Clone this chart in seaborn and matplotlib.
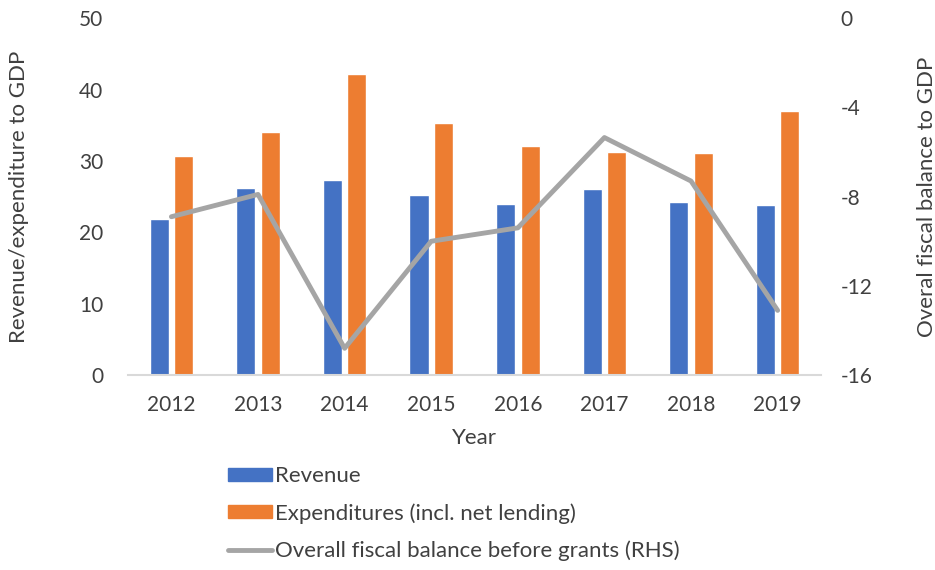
from matplotlib import pyplot as plt
from matplotlib.patches import Patch
from matplotlib.lines import Line2D
import pandas as pd
import seaborn as sns

years = ['2012', '2013', '2014', '2015', '2016', '2017', '2018', '2019']
revenue = [21.9, 26.2, 27.3, 25.2, 24.0, 26.1, 24.2, 23.9]
expenditures = [30.7, 34.0, 42.2, 35.3, 32.1, 31.2, 31.1, 37.0]
fiscal_balance = [-8.9, -7.9, -14.8, -10.0, -9.4, -5.35, -7.3, -13.1]

rev_label = 'Revenue'
exp_label = 'Expenditures (incl. net lending)'
bal_label = 'Overall fiscal balance before grants (RHS)'

blue = '#4472C4'
orange = '#ED7D31'
grey = '#A5A5A5'
text_col = '#404040'

df = pd.DataFrame({'Year': years * 2,
                   'value': revenue + expenditures,
                   'series': [rev_label] * len(years) + [exp_label] * len(years)})

sns.set_style('white')
plt.rcParams['font.family'] = ['Lato', 'DejaVu Sans']
plt.rcParams['axes.unicode_minus'] = False

fig = plt.figure(figsize=(9.35, 5.7), dpi=100)
ax = fig.add_axes([0.137, 0.342, 0.741, 0.626])

sns.barplot(data=df, x='Year', y='value', hue='series', order=years,
            palette=[blue, orange], width=0.564, gap=0.22, ax=ax,
            legend=False, saturation=1)

ax.set_xlim(-0.5, 7.5)
ax.set_ylim(0, 50)
ax.set_yticks(range(0, 51, 10))
for s in ['top', 'right', 'left']:
    ax.spines[s].set_visible(False)
ax.spines['bottom'].set_color('#D9D9D9')
ax.spines['bottom'].set_linewidth(1.5)
ax.tick_params(axis='both', length=0, labelsize=15, colors=text_col)
ax.tick_params(axis='x', pad=14)
ax.tick_params(axis='y', pad=18)
ax.set_xlabel('Year', fontsize=16, color=text_col, labelpad=10)
ax.set_ylabel('Revenue/expenditure to GDP', fontsize=16, color=text_col, labelpad=36)

ax2 = ax.twinx()
sns.lineplot(x=list(range(len(years))), y=fiscal_balance, color=grey,
             linewidth=3.5, ax=ax2)
ax2.set_ylim(-16, 0)
ax2.set_yticks(range(-16, 1, 4))
for s in ax2.spines.values():
    s.set_visible(False)
ax2.tick_params(axis='y', length=0, labelsize=15, colors=text_col, pad=14)
ax2.set_ylabel('Overal fiscal balance to GDP', fontsize=16, color=text_col, labelpad=32)

handles = [Patch(color=blue), Patch(color=orange),
           Line2D([0], [0], color=grey, linewidth=3.5)]
fig.legend(handles, [rev_label, exp_label, bal_label], loc='upper left',
           bbox_to_anchor=(0.222, 0.217), frameon=False, fontsize=16,
           handlelength=2.0, handleheight=0.5, handletextpad=0.15,
           labelspacing=0.75, labelcolor=text_col)

plt.savefig('out.png', dpi=100)
